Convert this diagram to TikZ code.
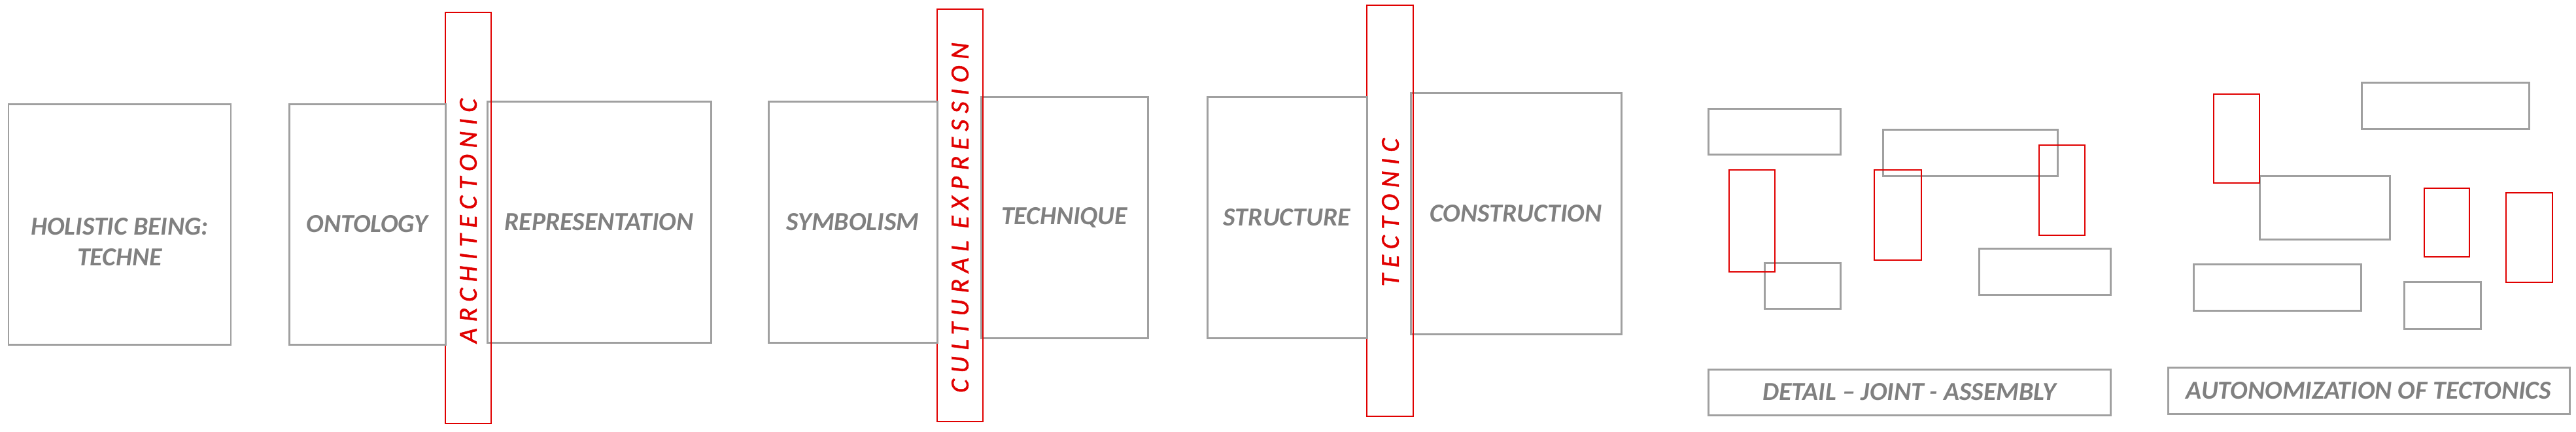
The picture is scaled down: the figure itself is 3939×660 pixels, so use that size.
\documentclass[tikz,border=0pt]{standalone}
\usepackage{fontspec}
\setmainfont{Carlito}
\newfontfamily\redfont[LetterSpace=24,FakeBold=1.2]{Carlito}
\usetikzlibrary{fit}
\definecolor{gline}{HTML}{A0A0A0}
\definecolor{gtext}{HTML}{808080}
\definecolor{rline}{HTML}{E00000}
\tikzset{
  gbox/.style={draw=gline, line width=0.85pt, inner sep=0pt},
  rbox/.style={draw=rline, line width=0.8pt, inner sep=0pt},
  gtxt/.style={text=gtext, inner sep=0pt, align=center,
    font=\fontsize{11.3}{13.4}\selectfont\bfseries\itshape},
  rtxt/.style={text=rline, inner sep=0pt, rotate=90,
    font=\fontsize{11.3}{13.4}\selectfont\redfont\itshape},
}
\begin{document}
\begin{tikzpicture}[x=0.01cm, y=-0.01cm]
\useasboundingbox (0,0) rectangle (3939,660);
% group 1
\node[gbox, fit={(13,159)(353,527)}] (hol) {};
\node[gtxt] (holt) at (183,370) {HOLISTIC BEING:\\TECHNE};
% group 2
\node[gbox, fit={(745,155)(1087,524)}] (rep) {};
\node[rbox, fit={(681,19)(751,648)}] (arch) {};
\node[gbox, fit={(442,159)(681,527)}] (ont) {};
\node[gtxt] (ontt) at (ont.center) {ONTOLOGY};
\node[gtxt] (rept) at (rep.center) {REPRESENTATION};
\node[rtxt] (archt) at (716,338) {ARCHITECTONIC};
% group 3
\node[gbox, fit={(1500,148)(1755,517)}] (tech) {};
\node[rbox, fit={(1433,14)(1503,645)}] (cult) {};
\node[gbox, fit={(1175,155)(1433,524)}] (sym) {};
\node[gtxt] (symt) at (sym.center) {SYMBOLISM};
\node[gtxt] (techt) at (tech.center) {TECHNIQUE};
\node[rtxt] (cultt) at (1468,333) {CULTURAL EXPRESSION};
% group 4
\node[gbox, fit={(2157,142)(2479,511)}] (con) {};
\node[rbox, fit={(2090,8)(2161,637)}] (tect) {};
\node[gbox, fit={(1846,148)(2090,517)}] (str) {};
\node[gtxt] (strt) at (str.center) {STRUCTURE};
\node[gtxt] (cont) at (con.center) {CONSTRUCTION};
\node[rtxt] (tectt) at (2126,325) {TECTONIC};
% group 5: detail - joint - assembly
\node[gbox, fit={(2612,166)(2814,236)}] (da) {};
\node[gbox, fit={(2879,198)(3146,269)}] (db) {};
\node[gbox, fit={(2698,402)(2814,472)}] (dc) {};
\node[gbox, fit={(3026,380)(3227,451)}] (dd) {};
\node[rbox, fit={(2644,260)(2714,416)}] (dr1) {};
\node[rbox, fit={(2866,260)(2938,398)}] (dr2) {};
\node[rbox, fit={(3118,222)(3188,360)}] (dr3) {};
\node[gbox, fit={(2612,565)(3227,635)}] (dlab) {};
\node[gtxt] (dlabt) at (dlab.center) {DETAIL -- JOINT - ASSEMBLY};
% group 6: autonomization
\node[gbox, fit={(3611,126)(3867,197)}] (ae) {};
\node[gbox, fit={(3455,269)(3654,366)}] (af) {};
\node[gbox, fit={(3354,404)(3610,475)}] (ag) {};
\node[gbox, fit={(3676,431)(3793,503)}] (ah) {};
\node[rbox, fit={(3385,144)(3455,280)}] (ar4) {};
\node[rbox, fit={(3707,288)(3776,393)}] (ar5) {};
\node[rbox, fit={(3832,295)(3903,432)}] (ar6) {};
\node[gbox, fit={(3315,562)(3929,633)}] (alab) {};
\node[gtxt] (alabt) at (alab.center) {AUTONOMIZATION OF TECTONICS};
\end{tikzpicture}
\end{document}
